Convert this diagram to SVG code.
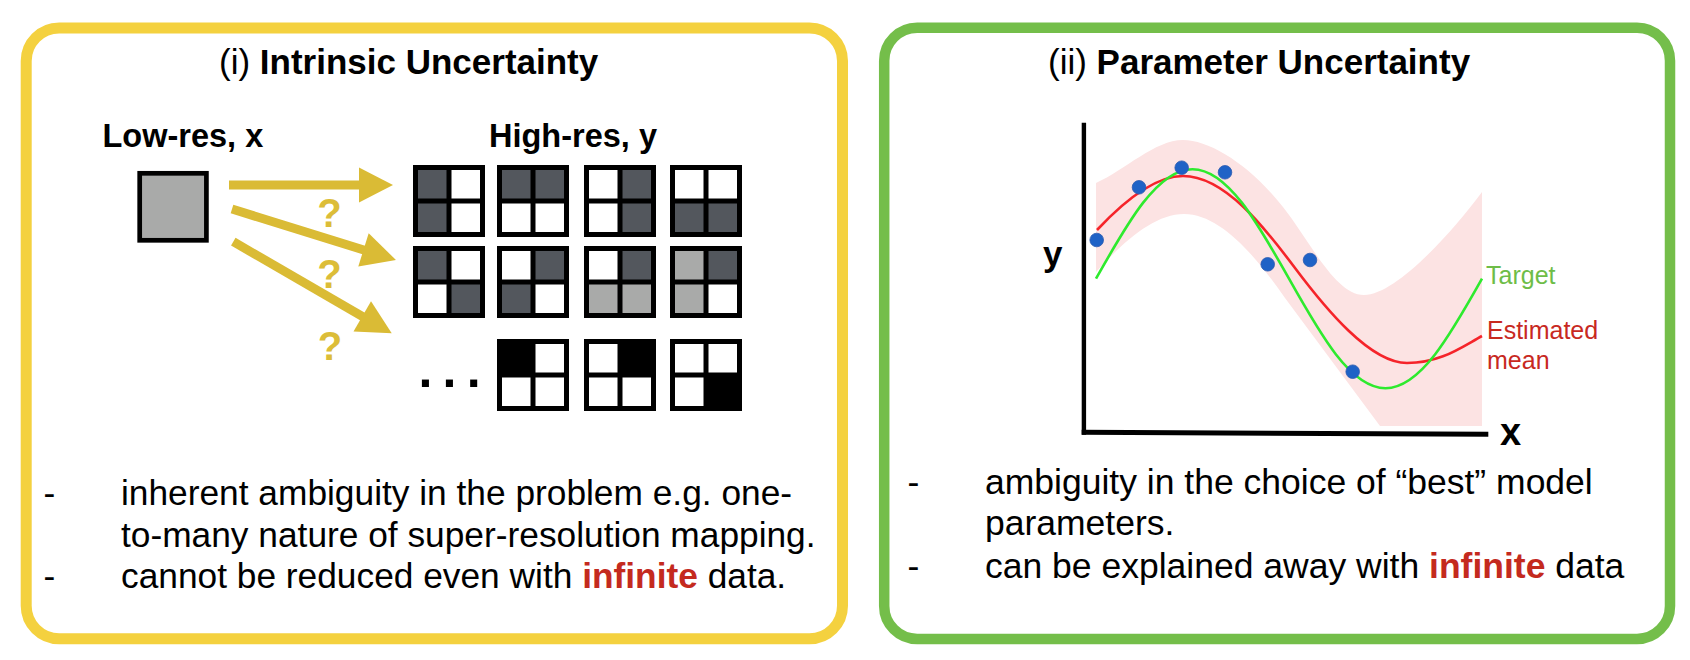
<svg xmlns="http://www.w3.org/2000/svg" width="1690" height="660" viewBox="0 0 1690 660">
<defs>
<style>
text{font-family:"Liberation Sans",Arial,Helvetica,sans-serif;fill:#000}
.b{font-weight:bold}
.title{font-size:35px}
.sub{font-size:32.5px;font-weight:bold}
.body{font-size:35.3px}
.body2{font-size:35.5px}
.red{fill:#C42A1E;font-weight:bold}
.q{font-size:40px;font-weight:bold;fill:#DCBD38;text-anchor:middle}
.bk{fill:#000}
.dk{fill:#53575D}
.lt{fill:#A9AAA9}
.wt{fill:#fff}
.arrow{stroke:#DABB35;stroke-width:9;fill:none;marker-end:url(#ah)}
.dot{fill:#1F62C6;stroke:#2B5AB0;stroke-width:0.8}
.axis{stroke:#000;fill:none}
</style>
<marker id="ah" markerUnits="userSpaceOnUse" markerWidth="36" markerHeight="36" refX="2" refY="17.5" orient="auto" overflow="visible">
<path d="M0,0 L34,17.5 L0,35 Z" fill="#DABB35"/>
</marker>
</defs>
<rect width="1690" height="660" fill="#fff"/>

<!-- Panel (i) -->
<g id="panel-intrinsic">
<rect x="26.2" y="28" width="816.3" height="610.8" rx="33" fill="none" stroke="#F4D13F" stroke-width="11"/>
<text class="title" x="219" y="74">(i) <tspan class="b">Intrinsic Uncertainty</tspan></text>
</g>

<g id="lowres">
<text class="sub" x="102.5" y="146.7">Low-res, x</text>
<rect x="139.7" y="173.3" width="66.7" height="67" fill="#A9AAA9" stroke="#000" stroke-width="4.7"/>
</g>

<g id="highres">
<text class="sub" x="489" y="146.7">High-res, y</text>
<g id="hr-1-1" transform="translate(413,165)"><rect class="bk" width="72" height="72"/><rect class="dk" x="5" y="5" width="28.5" height="28.5"/><rect class="wt" x="38.5" y="5" width="28.5" height="28.5"/><rect class="dk" x="5" y="38.5" width="28.5" height="28.5"/><rect class="wt" x="38.5" y="38.5" width="28.5" height="28.5"/></g>
<g id="hr-1-2" transform="translate(497,165)"><rect class="bk" width="72" height="72"/><rect class="dk" x="5" y="5" width="28.5" height="28.5"/><rect class="dk" x="38.5" y="5" width="28.5" height="28.5"/><rect class="wt" x="5" y="38.5" width="28.5" height="28.5"/><rect class="wt" x="38.5" y="38.5" width="28.5" height="28.5"/></g>
<g id="hr-1-3" transform="translate(584,165)"><rect class="bk" width="72" height="72"/><rect class="wt" x="5" y="5" width="28.5" height="28.5"/><rect class="dk" x="38.5" y="5" width="28.5" height="28.5"/><rect class="wt" x="5" y="38.5" width="28.5" height="28.5"/><rect class="dk" x="38.5" y="38.5" width="28.5" height="28.5"/></g>
<g id="hr-1-4" transform="translate(670,165)"><rect class="bk" width="72" height="72"/><rect class="wt" x="5" y="5" width="28.5" height="28.5"/><rect class="wt" x="38.5" y="5" width="28.5" height="28.5"/><rect class="dk" x="5" y="38.5" width="28.5" height="28.5"/><rect class="dk" x="38.5" y="38.5" width="28.5" height="28.5"/></g>

<g id="hr-2-1" transform="translate(413,246)"><rect class="bk" width="72" height="72"/><rect class="dk" x="5" y="5" width="28.5" height="28.5"/><rect class="wt" x="38.5" y="5" width="28.5" height="28.5"/><rect class="wt" x="5" y="38.5" width="28.5" height="28.5"/><rect class="dk" x="38.5" y="38.5" width="28.5" height="28.5"/></g>
<g id="hr-2-2" transform="translate(497,246)"><rect class="bk" width="72" height="72"/><rect class="wt" x="5" y="5" width="28.5" height="28.5"/><rect class="dk" x="38.5" y="5" width="28.5" height="28.5"/><rect class="dk" x="5" y="38.5" width="28.5" height="28.5"/><rect class="wt" x="38.5" y="38.5" width="28.5" height="28.5"/></g>
<g id="hr-2-3" transform="translate(584,246)"><rect class="bk" width="72" height="72"/><rect class="wt" x="5" y="5" width="28.5" height="28.5"/><rect class="dk" x="38.5" y="5" width="28.5" height="28.5"/><rect class="lt" x="5" y="38.5" width="28.5" height="28.5"/><rect class="lt" x="38.5" y="38.5" width="28.5" height="28.5"/></g>
<g id="hr-2-4" transform="translate(670,246)"><rect class="bk" width="72" height="72"/><rect class="lt" x="5" y="5" width="28.5" height="28.5"/><rect class="dk" x="38.5" y="5" width="28.5" height="28.5"/><rect class="lt" x="5" y="38.5" width="28.5" height="28.5"/><rect class="wt" x="38.5" y="38.5" width="28.5" height="28.5"/></g>

<text id="ellipsis" class="b" x="418.5" y="387" font-size="50" letter-spacing="10.2">...</text>
<g id="hr-3-2" transform="translate(497,339)"><rect class="bk" width="72" height="72"/><rect class="bk" x="5" y="5" width="28.5" height="28.5"/><rect class="wt" x="38.5" y="5" width="28.5" height="28.5"/><rect class="wt" x="5" y="38.5" width="28.5" height="28.5"/><rect class="wt" x="38.5" y="38.5" width="28.5" height="28.5"/></g>
<g id="hr-3-3" transform="translate(584,339)"><rect class="bk" width="72" height="72"/><rect class="wt" x="5" y="5" width="28.5" height="28.5"/><rect class="bk" x="38.5" y="5" width="28.5" height="28.5"/><rect class="wt" x="5" y="38.5" width="28.5" height="28.5"/><rect class="wt" x="38.5" y="38.5" width="28.5" height="28.5"/></g>
<g id="hr-3-4" transform="translate(670,339)"><rect class="bk" width="72" height="72"/><rect class="wt" x="5" y="5" width="28.5" height="28.5"/><rect class="wt" x="38.5" y="5" width="28.5" height="28.5"/><rect class="wt" x="5" y="38.5" width="28.5" height="28.5"/><rect class="bk" x="38.5" y="38.5" width="28.5" height="28.5"/></g>
</g>

<g id="connectors">
<line class="arrow" x1="229" y1="185" x2="361" y2="185"/>
<line class="arrow" x1="232" y1="209" x2="365.4" y2="250.5"/>
<line class="arrow" x1="233.3" y1="241.7" x2="364" y2="317.3"/>
<text class="q" x="329.5" y="226.5">?</text>
<text class="q" x="329.5" y="288.3">?</text>
<text class="q" x="330" y="360">?</text>
</g>

<g id="notes-intrinsic">
<text class="body" x="43.5" y="505">-</text>
<text class="body" x="121" y="505">inherent ambiguity in the problem e.g. one-</text>
<text class="body" x="121" y="546.7">to-many nature of super-resolution mapping.</text>
<text class="body" x="43.5" y="588.3">-</text>
<text class="body" x="121" y="588.3">cannot be reduced even with <tspan class="red">infinite</tspan> data.</text>
</g>

<!-- Panel (ii) -->
<g id="panel-parameter">
<rect x="884.2" y="27.7" width="785.8" height="611.3" rx="33" fill="none" stroke="#74BE4A" stroke-width="10.5"/>
<text class="title" x="1048" y="74">(ii) <tspan class="b">Parameter Uncertainty</tspan></text>
</g>

<g id="plot">
<path id="band" d="M1096,183 C1125,170 1155,140 1183,140 C1210,140 1250,165 1283,207 C1310,241 1335,295 1364,295 C1395,295 1450,235 1482,192 L1482,426 L1380,426 L1285,298 C1255,255 1220,214 1184,214 C1155,214 1125,240 1096,272 Z" fill="#FCE3E3"/>
<line class="axis" x1="1083.9" y1="122.7" x2="1083.9" y2="434.7" stroke-width="4.4"/>
<line class="axis" x1="1081.7" y1="432.2" x2="1488.3" y2="434.2" stroke-width="5"/>
<text class="b" x="1043" y="266" font-size="35">y</text>
<text class="b" x="1500" y="445" font-size="38">x</text>
<path id="mean" d="M1097,230 C1125,200 1155,176 1183,176 C1225,176 1265,228 1295,268 C1325,308 1370,363 1407,363 C1440,363 1460,348 1482,336" fill="none" stroke="#F5242A" stroke-width="2.6"/>
<path id="target" d="M1096,278.7 C1127.5,222.6 1157.6,169.2 1192.5,169.2 C1227.4,169.2 1257.5,222.6 1289,278.7 C1320.5,334.8 1350.6,388.2 1385.5,388.2 C1420.4,388.2 1450.5,334.8 1482,278.7" fill="none" stroke="#2EEA2E" stroke-width="2.6"/>
<g id="data">
<circle class="dot" cx="1096.7" cy="240" r="6.8"/>
<circle class="dot" cx="1139" cy="187.3" r="6.8"/>
<circle class="dot" cx="1181.7" cy="167.7" r="6.8"/>
<circle class="dot" cx="1225" cy="172.3" r="6.8"/>
<circle class="dot" cx="1267.7" cy="264.3" r="6.8"/>
<circle class="dot" cx="1310" cy="260" r="6.8"/>
<circle class="dot" cx="1352.7" cy="371.7" r="6.8"/>
</g>
<text x="1486" y="284.3" font-size="25" style="fill:#6EBD48">Target</text>
<text x="1487" y="339" font-size="25" style="fill:#C8291F">Estimated</text>
<text x="1487" y="368.8" font-size="25" style="fill:#C8291F">mean</text>
</g>

<g id="notes-parameter">
<text class="body2" x="907.5" y="494">-</text>
<text class="body2" x="985" y="494">ambiguity in the choice of “best” model</text>
<text class="body2" x="985" y="535">parameters.</text>
<text class="body2" x="907.5" y="578.3">-</text>
<text class="body2" x="985" y="578.3">can be explained away with <tspan class="red">infinite</tspan> data</text>
</g>
</svg>
